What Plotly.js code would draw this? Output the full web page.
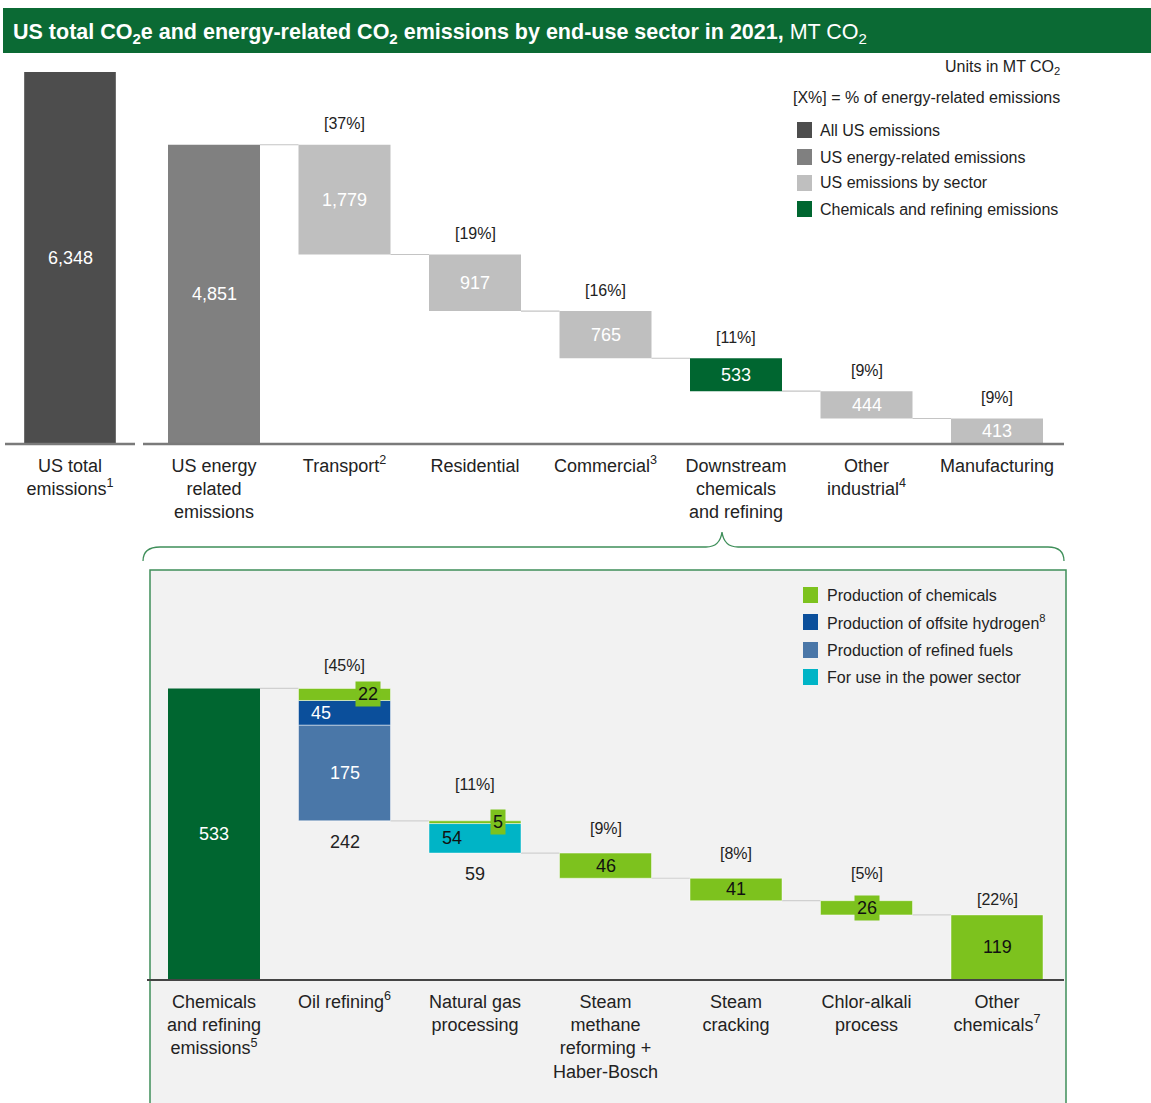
<!DOCTYPE html>
<html><head><meta charset="utf-8">
<script src="https://cdn.plot.ly/plotly-3.0.1.min.js"></script>
<style>html,body{margin:0;padding:0;background:#fff}#chart{width:1151px;height:1103px}</style>
</head><body><div id="chart"></div>
<script>
// ---------------- data ----------------
const totalLabel = ["US total<br>emissions<sup>1</sup>"];
const totalValue = [6348];

const topCategories = ["US energy<br>related<br>emissions", "Transport<sup>2</sup>", "Residential", "Commercial<sup>3</sup>",
  "Downstream<br>chemicals<br>and refining", "Other<br>industrial<sup>4</sup>", "Manufacturing"];
const energyTotal = 4851;
const sectorNames = ["Transport", "Residential", "Commercial", "Downstream chemicals and refining", "Other industrial", "Manufacturing"];
const sectorValues = [1779, 917, 765, 533, 444, 413];
const sectorShares = ["[37%]", "[19%]", "[16%]", "[11%]", "[9%]", "[9%]"];

const bottomCategories = ["Chemicals<br>and refining<br>emissions<sup>5</sup>", "Oil refining<sup>6</sup>", "Natural gas<br>processing",
  "Steam<br>methane<br>reforming +<br>Haber-Bosch", "Steam<br>cracking", "Chlor-alkali<br>process", "Other<br>chemicals<sup>7</sup>"];
const chemTotal = 533;
const subRefinedFuels = [175, 0, 0, 0, 0, 0];
const subHydrogen     = [45, 0, 0, 0, 0, 0];
const subPower        = [0, 54, 0, 0, 0, 0];
const subChemicals    = [22, 5, 46, 41, 26, 119];
const subShares = ["[45%]", "[11%]", "[9%]", "[8%]", "[5%]", "[22%]"];

const legendTop = ["All US emissions", "US energy-related emissions", "US emissions by sector", "Chemicals and refining emissions"];
const legendBottom = ["Production of chemicals", "Production of offsite hydrogen<sup>8</sup>", "Production of refined fuels", "For use in the power sector"];

// ---------------- styles ----------------
const W = 1151, H = 1103;
const FONT = "Liberation Sans, Arial, Helvetica, sans-serif";
const C = {
  total: "#4d4d4d", energy: "#808080", sector: "#bfbfbf", chem: "#006630",
  green: "#7dc21e", hydrogen: "#0b4f9b", fuels: "#4a77a8", power: "#00b4c6",
  title: "#0b6a34", text: "#222222", conn: "#c4c4c4", frame: "#3f8f5a"
};
const BW = 0.705, HW = BW / 2;
const px = x => x / W;
const py = y => 1 - y / H;

// ---------------- derived bases ----------------
const sectorBases = [];
{ let r = energyTotal; sectorValues.forEach(v => { r -= v; sectorBases.push(r); }); }
const subTotals = subChemicals.map((v, i) => v + subRefinedFuels[i] + subHydrogen[i] + subPower[i]);
const subBases = [];
{ let r = chemTotal; subTotals.forEach(v => { r -= v; subBases.push(r); }); }

const traces = [];
const annotations = [];
const shapes = [];
const fmt = v => v.toLocaleString("en-US");
const ann = o => annotations.push(Object.assign({showarrow: false, xanchor: "center", yanchor: "middle"}, o));

// top-left total
traces.push({type: "bar", x: [0], y: totalValue, width: BW, marker: {color: C.total}, xaxis: "x", yaxis: "y", hoverinfo: "skip"});
ann({xref: "x", yref: "y", x: 0, y: totalValue[0] * 0.5, text: fmt(totalValue[0]), font: {size: 18, color: "#fff"}});

// energy total
traces.push({type: "bar", x: [0], y: [energyTotal], base: [0], width: BW, marker: {color: C.energy}, xaxis: "x2", yaxis: "y2", hoverinfo: "skip"});
ann({xref: "x2", yref: "y2", x: 0, y: energyTotal * 0.5, text: fmt(energyTotal), font: {size: 18, color: "#fff"}});

// sectors
const hiIdx = sectorNames.indexOf("Downstream chemicals and refining");
traces.push({type: "bar", x: sectorValues.map((v, i) => i + 1), y: sectorValues, base: sectorBases, width: BW,
  marker: {color: sectorValues.map((v, i) => i === hiIdx ? C.chem : C.sector)}, xaxis: "x2", yaxis: "y2", hoverinfo: "skip"});
sectorValues.forEach((v, i) => {
  ann({xref: "x2", yref: "y2", x: i + 1, y: sectorBases[i] + v / 2, text: fmt(v), font: {size: 18, color: "#fff"}});
  ann({xref: "x2", yref: "y2", x: i + 1, y: sectorBases[i] + v, yshift: 21, text: sectorShares[i], font: {size: 16, color: C.text}});
});
// connectors top
shapes.push({type: "line", xref: "x2", yref: "y2", x0: HW, x1: 1 - HW, y0: energyTotal, y1: energyTotal, line: {color: C.conn, width: 1.2}, layer: "below"});
sectorBases.slice(0, -1).forEach((b, i) => {
  shapes.push({type: "line", xref: "x2", yref: "y2", x0: i + 1 + HW, x1: i + 2 - HW, y0: b, y1: b, line: {color: C.conn, width: 1.2}, layer: "below"});
});

// bottom: chem total
traces.push({type: "bar", x: [0], y: [chemTotal], base: [0], width: BW, marker: {color: C.chem}, xaxis: "x3", yaxis: "y3", hoverinfo: "skip"});
ann({xref: "x3", yref: "y3", x: 0, y: chemTotal * 0.5, text: String(chemTotal), font: {size: 18, color: "#fff"}});

// stacks
const stackDefs = [
  {vals: subRefinedFuels, color: C.fuels, txt: "#fff"},
  {vals: subHydrogen, color: C.hydrogen, txt: "#fff"},
  {vals: subPower, color: C.power, txt: "#111"},
  {vals: subChemicals, color: C.green, txt: "#111"}
];
const running = subBases.slice();
stackDefs.forEach(sd => {
  const xs = [], ys = [], bs = [];
  sd.vals.forEach((v, i) => {
    if (v > 0) {
      xs.push(i + 1); ys.push(v); bs.push(running[i]);
      const multi = subTotals[i] !== v;
      const small = v < 30;
      const big = v > 100 && multi;
      ann({xref: "x3", yref: "y3",
        x: i + 1 + (multi && !big ? (small ? 0.18 : -0.18) : 0),
        y: running[i] + v / 2, text: String(v),
        font: {size: 18, color: sd.txt},
        bgcolor: small ? C.green : "rgba(0,0,0,0)", borderpad: small ? 2 : 1});
      running[i] += v;
    }
  });
  traces.push({type: "bar", x: xs, y: ys, base: bs, width: BW, marker: {color: sd.color, line: {color: "rgba(255,255,255,0.6)", width: 0.8}},
    xaxis: "x3", yaxis: "y3", hoverinfo: "skip"});
});
const shareShift = [23, 36, 25, 25, 27, 15];
subTotals.forEach((t, i) => {
  ann({xref: "x3", yref: "y3", x: i + 1, y: subBases[i] + t, yshift: shareShift[i], text: subShares[i], font: {size: 16, color: C.text}});
  if (subChemicals[i] !== t) {
    ann({xref: "x3", yref: "y3", x: i + 1, y: subBases[i], yshift: -21, text: String(t), font: {size: 18, color: C.text}});
  }
});
// connectors bottom
shapes.push({type: "line", xref: "x3", yref: "y3", x0: HW, x1: 1 - HW, y0: chemTotal, y1: chemTotal, line: {color: "#d0d0d0", width: 1.2}, layer: "below"});
subBases.slice(0, -1).forEach((b, i) => {
  shapes.push({type: "line", xref: "x3", yref: "y3", x0: i + 1 + HW, x1: i + 2 - HW, y0: b, y1: b, line: {color: "#d0d0d0", width: 1.2}, layer: "below"});
});

// ---------------- decoration (paper) ----------------
shapes.push({type: "rect", xref: "paper", yref: "paper", x0: px(3), x1: px(1151), y0: py(53), y1: py(8), fillcolor: C.title, line: {width: 0}, layer: "below"});
ann({xref: "paper", yref: "paper", x: px(11), y: py(34), xanchor: "left",
  text: "<b>US total CO<sub>2</sub>e and energy-related CO<sub>2</sub> emissions by end-use sector in 2021,</b> MT CO<sub>2</sub>",
  font: {size: 21.5, color: "#fff"}});
shapes.push({type: "rect", xref: "paper", yref: "paper", x0: px(150), x1: px(1066), y0: py(1115), y1: py(570), fillcolor: "#f2f2f2", line: {color: C.frame, width: 1.5}, layer: "below"});
const bp = (x, y) => px(x).toFixed(5) + "," + py(y).toFixed(5);
shapes.push({type: "path", xref: "paper", yref: "paper", layer: "below", line: {color: C.frame, width: 1.3},
  path: "M" + bp(143, 561) + " Q" + bp(143, 547) + " " + bp(160, 547) + " L" + bp(706, 547) + " Q" + bp(720, 547) + " " + bp(722, 532) +
        " Q" + bp(724, 547) + " " + bp(738, 547) + " L" + bp(1048, 547) + " Q" + bp(1064, 547) + " " + bp(1064, 561)});
shapes.push({type: "line", xref: "paper", yref: "paper", x0: px(5), x1: px(135), y0: py(444), y1: py(444), line: {color: "#7a7a7a", width: 2.5}});
shapes.push({type: "line", xref: "paper", yref: "paper", x0: px(143), x1: px(1064), y0: py(444), y1: py(444), line: {color: "#7a7a7a", width: 2.5}});
shapes.push({type: "line", xref: "paper", yref: "paper", x0: px(147), x1: px(1064), y0: py(980), y1: py(980), line: {color: "#444", width: 2}});

// top legend
ann({xref: "paper", yref: "paper", x: px(1062), y: py(68), xanchor: "right", text: "Units in MT CO<sub>2</sub>", font: {size: 16, color: C.text}});
ann({xref: "paper", yref: "paper", x: px(1062), y: py(97), xanchor: "right", text: "[X%] = % of energy-related emissions", font: {size: 16, color: C.text}});
const topLegColors = [C.total, C.energy, C.sector, C.chem];
const topLegY = [130, 157, 183, 209];
legendTop.forEach((t, i) => {
  shapes.push({type: "rect", xref: "paper", yref: "paper", x0: px(797), x1: px(812), y0: py(topLegY[i] + 8), y1: py(topLegY[i] - 8), fillcolor: topLegColors[i], line: {width: 0}});
  ann({xref: "paper", yref: "paper", x: px(818), y: py(topLegY[i]), xanchor: "left", text: t, font: {size: 16, color: C.text}});
});
const botLegColors = [C.green, C.hydrogen, C.fuels, C.power];
const botLegY = [595, 622, 650, 677];
legendBottom.forEach((t, i) => {
  shapes.push({type: "rect", xref: "paper", yref: "paper", x0: px(803), x1: px(818), y0: py(botLegY[i] + 8), y1: py(botLegY[i] - 8), fillcolor: botLegColors[i], line: {width: 0}});
  ann({xref: "paper", yref: "paper", x: px(825), y: py(botLegY[i]), xanchor: "left", text: t, font: {size: 16, color: C.text}});
});

// ---------------- axes ----------------
const tickCommon = {ticks: "outside", ticklen: 5, tickcolor: "rgba(0,0,0,0)", showgrid: false, zeroline: false, showline: false,
  tickfont: {size: 18, color: C.text, family: FONT}, fixedrange: true};
const yCommon = {showgrid: false, zeroline: false, showline: false, showticklabels: false, ticks: "", fixedrange: true};
const xTop = [148.75, 1062.25];

const layout = {
  width: W, height: H, margin: {l: 0, r: 0, t: 0, b: 0}, showlegend: false,
  paper_bgcolor: "#fff", plot_bgcolor: "rgba(0,0,0,0)", barmode: "overlay",
  font: {family: FONT, color: C.text, size: 16},
  xaxis: Object.assign({}, tickCommon, {domain: [px(5), px(135)], range: [-0.5, 0.5], tickvals: [0], ticktext: totalLabel, anchor: "y"}),
  yaxis: Object.assign({}, yCommon, {domain: [py(444), py(72)], range: [0, 6348], anchor: "x"}),
  xaxis2: Object.assign({}, tickCommon, {domain: [px(xTop[0]), px(xTop[1])], range: [-0.5, 6.5], tickvals: topCategories.map((c, i) => i), ticktext: topCategories, anchor: "y2"}),
  yaxis2: Object.assign({}, yCommon, {domain: [py(444), py(72)], range: [0, 6030], anchor: "x2"}),
  xaxis3: Object.assign({}, tickCommon, {domain: [px(xTop[0]), px(xTop[1])], range: [-0.5, 6.5], tickvals: bottomCategories.map((c, i) => i), ticktext: bottomCategories, anchor: "y3"}),
  yaxis3: Object.assign({}, yCommon, {domain: [py(980), py(660)], range: [0, 585], anchor: "x3"}),
  shapes: shapes, annotations: annotations
};
Plotly.newPlot("chart", traces, layout, {displayModeBar: false, staticPlot: true});
</script>
</body></html>
